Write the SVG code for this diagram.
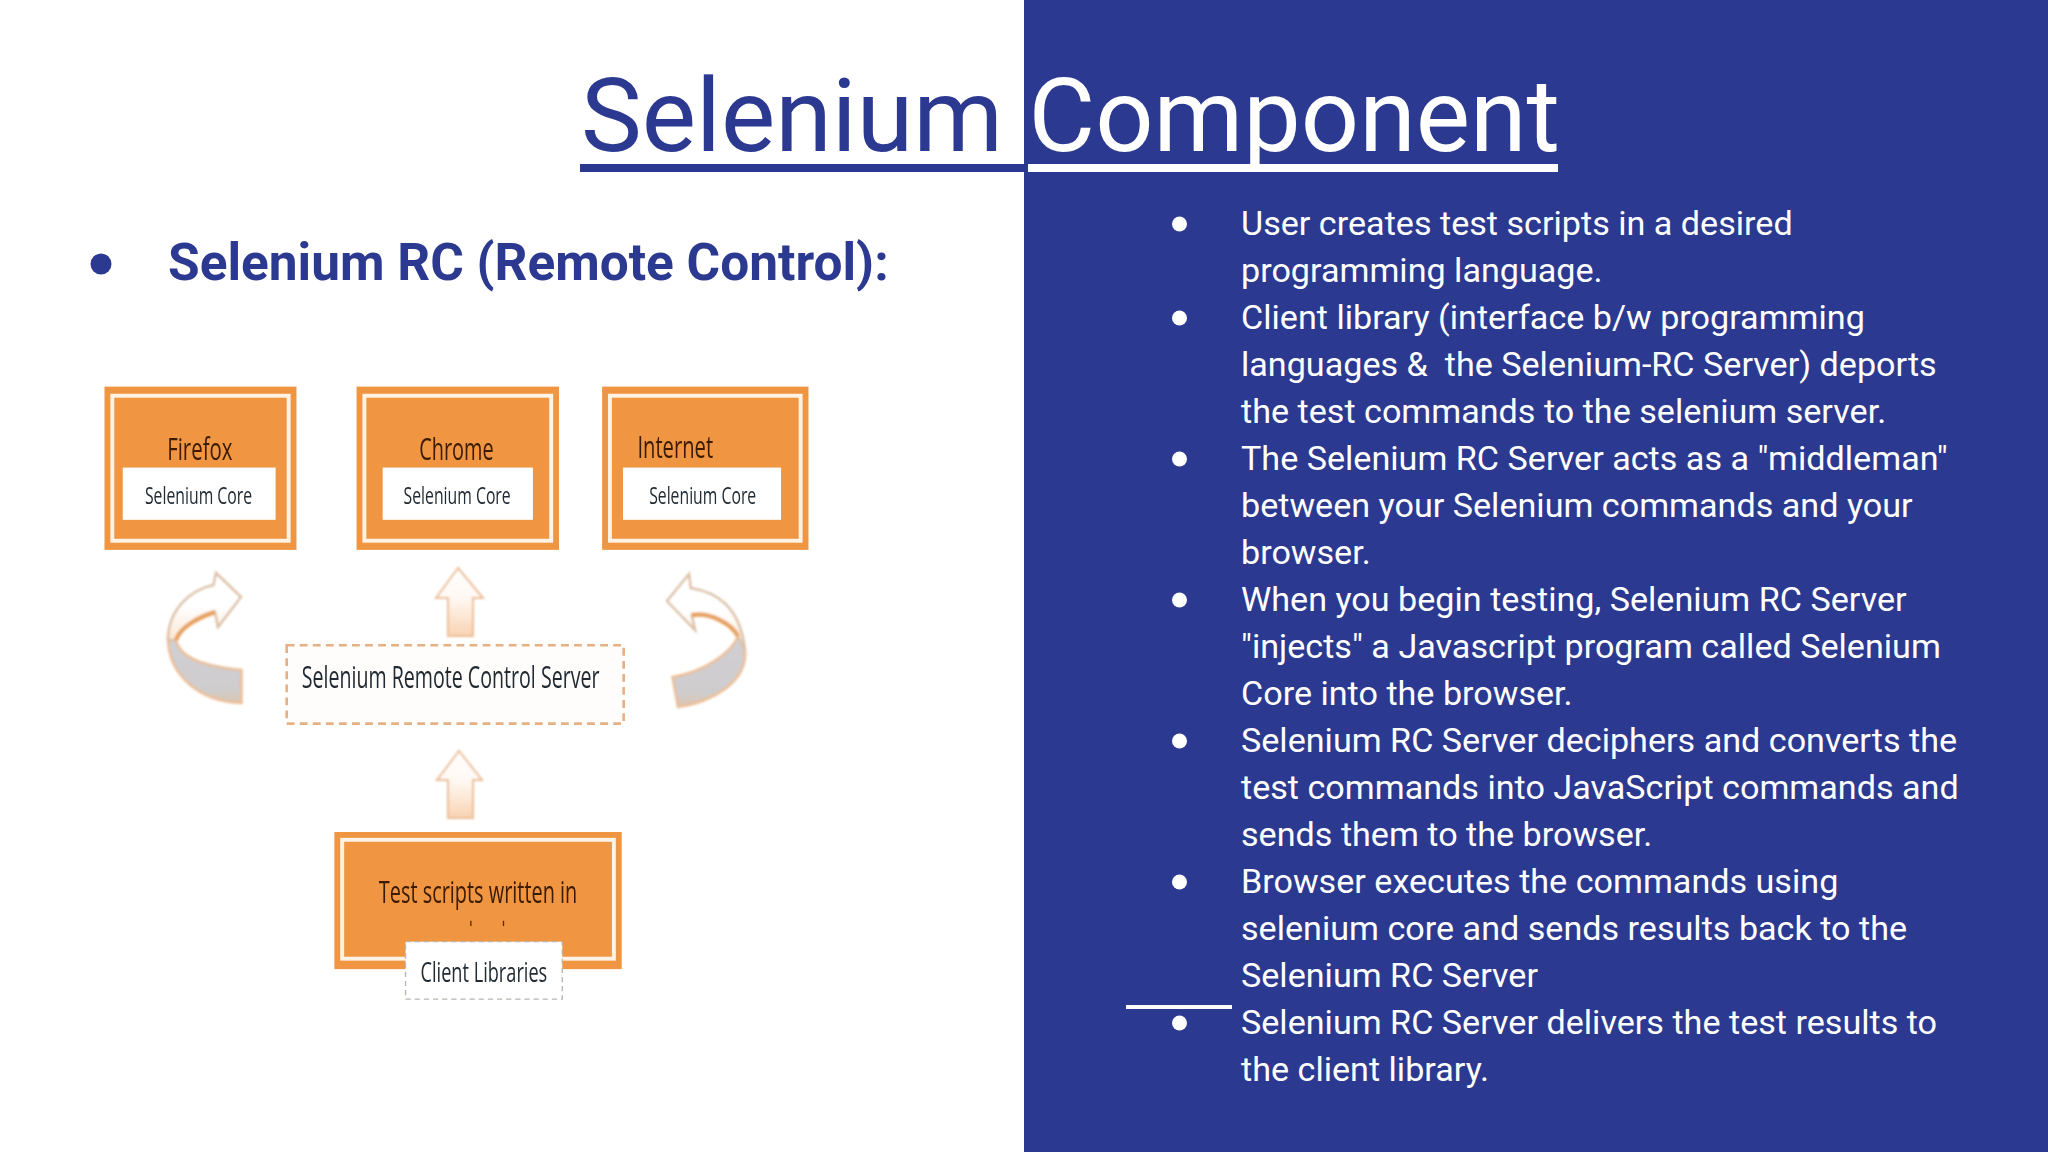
<svg xmlns="http://www.w3.org/2000/svg" width="2048" height="1152" viewBox="0 0 2048 1152">
<style>
text{font-family:Roboto,"Liberation Sans",sans-serif}
.li{font-size:34.13px;fill:#fff;white-space:pre}
.dot{fill:#fff}
.box{fill:#f09642}
.frame{fill:none;stroke:#fff3e6;stroke-width:3}
.inner{fill:#fff}
.pic{font-family:"Open Sans","Noto Sans",sans-serif}
.lbl{fill:#3a1a00}
.sub{fill:#222b33}
.up{fill:url(#upg);stroke:#ecbd96;stroke-width:2}
.cur{fill:url(#cg);stroke:#dcc0a4;stroke-width:2.500}
.edge{fill:none;stroke:#e8a262;stroke-width:4.500}
.grey{fill:url(#gg);stroke:#ebbf98;stroke-width:2.500}
</style>
<defs>
<linearGradient id="upg" x1="0" y1="0" x2="0" y2="1"><stop offset="0" stop-color="#fff"/><stop offset="0.45" stop-color="#fff8f2"/><stop offset="1" stop-color="#f9d3b2"/></linearGradient>
<linearGradient id="cg" x1="0" y1="1" x2="0" y2="0"><stop offset="0" stop-color="#fbe6d4"/><stop offset="0.5" stop-color="#fff"/><stop offset="1" stop-color="#fff"/></linearGradient>
<linearGradient id="gg" x1="0" y1="0" x2="0" y2="1"><stop offset="0" stop-color="#d0cfd3"/><stop offset="0.8" stop-color="#cfccce"/><stop offset="1" stop-color="#dcc6ae"/></linearGradient>
<filter id="soft" x="-5%" y="-5%" width="110%" height="110%"><feGaussianBlur stdDeviation="0.5"/></filter>
<filter id="softer" x="-10%" y="-10%" width="120%" height="120%"><feGaussianBlur stdDeviation="0.8"/></filter>
</defs>
<rect width="2048" height="1152" fill="#fff"/>
<rect x="1024" width="1024" height="1152" fill="#2c3990"/>
<g id="title">
<text x="581" y="151" font-size="102.400" fill="#2c3990">Selenium</text>
<text x="1028.500" y="151" font-size="102.400" fill="#fff">Component</text>
<rect x="580" y="164" width="444" height="8" fill="#2c3990"/>
<rect x="1028" y="164" width="530" height="8" fill="#fff"/>
</g>
<g id="heading">
<circle cx="101" cy="264" r="10.500" fill="#2c3990"/>
<text x="168" y="279.500" font-size="51.400" font-weight="700" fill="#2c3990">Selenium RC (Remote Control):</text>
</g>
<g id="bullets">
<circle class="dot" cx="1179.500" cy="224" r="7.500"/>
<circle class="dot" cx="1179.500" cy="318" r="7.500"/>
<circle class="dot" cx="1179.500" cy="459" r="7.500"/>
<circle class="dot" cx="1179.500" cy="600" r="7.500"/>
<circle class="dot" cx="1179.500" cy="741" r="7.500"/>
<circle class="dot" cx="1179.500" cy="882" r="7.500"/>
<circle class="dot" cx="1179.500" cy="1023" r="7.500"/>
<rect x="1126" y="1005" width="106" height="4" fill="#fff"/>
</g>
<g id="list">
<text class="li" x="1241" y="235">User creates test scripts in a desired</text>
<text class="li" x="1241" y="282">programming language.</text>
<text class="li" x="1241" y="329">Client library (interface b/w programming</text>
<text class="li" x="1241" y="376">languages &amp;  the Selenium-RC Server) deports</text>
<text class="li" x="1241" y="423">the test commands to the selenium server.</text>
<text class="li" x="1241" y="470">The Selenium RC Server acts as a "middleman"</text>
<text class="li" x="1241" y="517">between your Selenium commands and your</text>
<text class="li" x="1241" y="564">browser.</text>
<text class="li" x="1241" y="611">When you begin testing, Selenium RC Server</text>
<text class="li" x="1241" y="658">"injects" a Javascript program called Selenium</text>
<text class="li" x="1241" y="705">Core into the browser.</text>
<text class="li" x="1241" y="752">Selenium RC Server deciphers and converts the</text>
<text class="li" x="1241" y="799">test commands into JavaScript commands and</text>
<text class="li" x="1241" y="846">sends them to the browser.</text>
<text class="li" x="1241" y="893">Browser executes the commands using</text>
<text class="li" x="1241" y="940">selenium core and sends results back to the</text>
<text class="li" x="1241" y="987">Selenium RC Server</text>
<text class="li" x="1241" y="1034">Selenium RC Server delivers the test results to</text>
<text class="li" x="1241" y="1080.500">the client library.</text>
</g>
<g id="connectors" filter="url(#softer)">
<path class="grey" d="M168 638 C168 675 200 702 241.500 703 L241.500 670 C210 667 180 660 176 640 Z"/>
<path class="cur" d="M241 597 L216 573 L213.500 585 C190 590 168 610 168 640 L176 640 C180 628 196 618 215 612 L218 627 Z"/>
<path class="edge" d="M176 640 C180 628 196 618 215 612"/>
<path class="grey" d="M738 636 C732 652 705 672 672.500 677 L678 707 C712 702 748 682 745 650 Z"/>
<path class="cur" d="M667 601 L689 574 L690.700 588 C715 592 740 605 745 650 L738 636 C732 625 712 612 691.700 615 L695 630 Z"/>
<path class="edge" d="M738 636 C732 625 712 612 691.700 615"/>
<path class="up" d="M458 568 L483 598 L473 598 L473 636 L448 636 L448 598 L436 598 Z"/>
<path class="up" d="M459 751 L482 780 L473 780 L473 818 L448 818 L448 780 L437 780 Z"/>
</g>
<g transform="scale(1.3061)" filter="url(#soft)">
<g id="firefox">
<rect class="box" x="80" y="296" width="147" height="125"/>
<rect class="frame" x="86" y="303" width="135" height="111"/>
<rect class="inner" x="94" y="358" width="117" height="40"/>
<text class="pic lbl" x="128" y="352" font-size="24" textLength="50" lengthAdjust="spacingAndGlyphs">Firefox</text>
<text class="pic sub" x="111" y="385.500" font-size="18" textLength="82" lengthAdjust="spacingAndGlyphs">Selenium Core</text>
</g>
<g id="chrome">
<rect class="box" x="273" y="296" width="155" height="125"/>
<rect class="frame" x="279" y="303" width="143" height="111"/>
<rect class="inner" x="293" y="358" width="115" height="40"/>
<text class="pic lbl" x="321" y="352" font-size="24" textLength="57" lengthAdjust="spacingAndGlyphs">Chrome</text>
<text class="pic sub" x="309" y="385.500" font-size="18" textLength="82" lengthAdjust="spacingAndGlyphs">Selenium Core</text>
</g>
<g id="internet">
<rect class="box" x="461" y="296" width="158" height="125"/>
<rect class="frame" x="467" y="303" width="146" height="111"/>
<rect class="inner" x="477" y="358" width="121" height="40"/>
<text class="pic lbl" x="488" y="351" font-size="24" textLength="58" lengthAdjust="spacingAndGlyphs">Internet</text>
<text class="pic sub" x="497" y="385.500" font-size="18" textLength="82" lengthAdjust="spacingAndGlyphs">Selenium Core</text>
</g>
<g id="server">
<rect x="219.500" y="494" width="258" height="60" fill="#fffdfb" stroke="#e5b184" stroke-width="2" stroke-dasharray="6 4"/>
<text class="pic sub" x="231" y="527" font-size="24" textLength="228" lengthAdjust="spacingAndGlyphs">Selenium Remote Control Server</text>
</g>
<g id="scripts">
<rect class="box" x="256" y="637" width="220" height="105"/>
<rect class="frame" x="262" y="643" width="208" height="91"/>
<text class="pic lbl" x="290" y="691" font-size="24" textLength="152" lengthAdjust="spacingAndGlyphs">Test scripts written in</text>
<rect x="360" y="705" width="1" height="4" fill="#5a2a00"/>
<rect x="385" y="705" width="1" height="4" fill="#5a2a00"/>
<rect x="310.500" y="721" width="120" height="44" fill="#fff" stroke="#b9b4ad" stroke-dasharray="4 3"/>
<text class="pic sub" x="322" y="751.500" font-size="21" textLength="97" lengthAdjust="spacingAndGlyphs">Client Libraries</text>
</g>
</g>
</svg>
